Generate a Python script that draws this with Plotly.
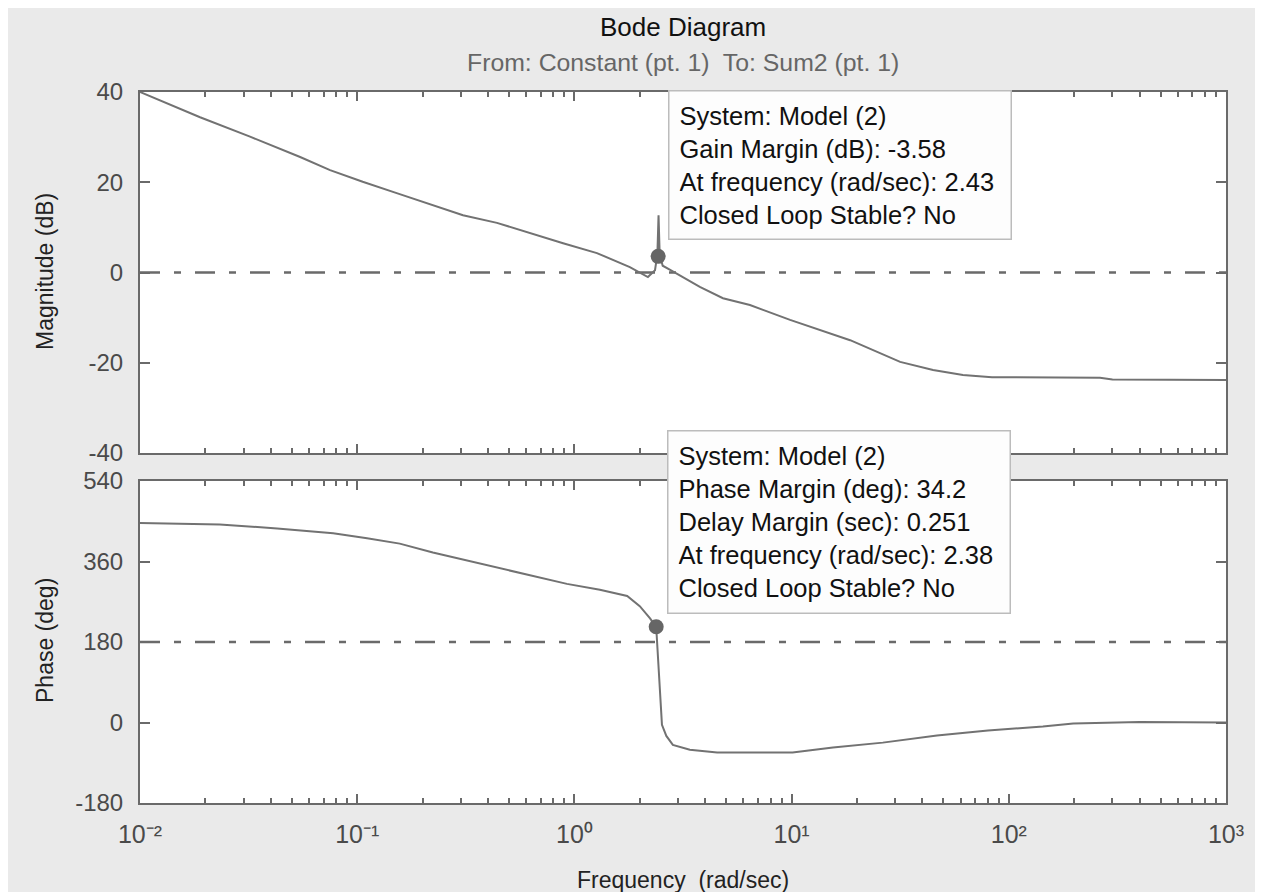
import plotly.graph_objects as go

# ---------------- data ----------------
freq_mag = [0.01, 0.0189, 0.0321, 0.0546, 0.075, 0.106, 0.152, 0.216, 0.307, 0.44,
            0.625, 0.887, 1.27, 1.51, 1.80, 2.18, 2.35, 2.41, 2.44, 2.47, 2.55,
            2.76, 3.78, 4.83, 6.43, 9.84, 18.6, 31.6, 44.8, 61.5, 83.7, 263, 300, 1000]
mag_db = [40, 34.4, 30.1, 25.6, 22.7, 20.1, 17.6, 15.2, 12.7, 11.0,
          8.7, 6.5, 4.3, 2.8, 1.2, -1.0, 0.5, 4.0, 12.7, 4.0, 1.5,
          0.6, -3.2, -5.7, -7.2, -10.5, -15.0, -19.8, -21.6, -22.7, -23.2, -23.3, -23.7, -23.8]

freq_phase = [0.01, 0.0233, 0.0428, 0.0546, 0.0775, 0.111, 0.157, 0.223, 0.320, 0.454,
              0.644, 0.924, 1.31, 1.75, 2.00, 2.23, 2.38, 2.43, 2.50, 2.53, 2.65,
              2.84, 3.40, 4.54, 10.1, 15.5, 26.3, 46.7, 80.2, 143.5, 198, 400, 1000]
phase_deg = [446, 443, 434, 430, 423, 412, 400, 380, 362, 344,
             328, 310, 297, 283, 260, 233, 214, 130, 20, -5, -30,
             -50, -61, -67, -67, -56, -45, -29, -18, -9, -2, 1, 0]

gm_freq, gm_mag = 2.43, 3.58
pm_freq, pm_phase = 2.38, 214.2

ref_freq = [0.01, 1000]
ref_mag = [0, 0]
ref_phase = [180, 180]

decade_ticks = [0.01, 0.1, 1, 10, 100, 1000]
decade_labels = ["10\u207b\u00b2", "10\u207b\u00b9", "10\u2070",
                 "10\u00b9", "10\u00b2", "10\u00b3"]
minor_ticks = [m * d for d in decade_ticks[:-1] for m in range(2, 10)]
mag_ticks = [-40, -20, 0, 20, 40]
mag_labels = ["-40", "-20", "0", "20", "40"]
phase_ticks = [-180, 0, 180, 360, 540]
phase_labels = ["-180", "0", "180", "360", "540"]

gm_lines = ["System: Model (2)", "Gain Margin (dB): -3.58",
            "At frequency (rad/sec): 2.43", "Closed Loop Stable? No"]
pm_lines = ["System: Model (2)", "Phase Margin (deg): 34.2", "Delay Margin (sec): 0.251",
            "At frequency (rad/sec): 2.38", "Closed Loop Stable? No"]

title = "Bode Diagram"
subtitle = "From: Constant (pt. 1)\u00a0 To: Sum2 (pt. 1)"
xlabel = "Frequency\u00a0 (rad/sec)"

# ---------------- styling ----------------
FONT = "Liberation Sans, Arial, sans-serif"
CURVE = "#727272"
AXIS = "#6a6a6a"
TICKTXT = "#4a4a4a"
BG = "#eaeaea"
dash = "20px,14px,7px,14px"

fig = go.Figure()
fig.add_trace(go.Scatter(x=ref_freq, y=ref_mag, mode="lines", xaxis="x", yaxis="y",
                         line=dict(color=AXIS, width=2.4, dash=dash), hoverinfo="skip"))
fig.add_trace(go.Scatter(x=freq_mag, y=mag_db, mode="lines", xaxis="x", yaxis="y",
                         line=dict(color=CURVE, width=2)))
fig.add_trace(go.Scatter(x=[gm_freq], y=[gm_mag], mode="markers", xaxis="x", yaxis="y",
                         marker=dict(color="#666666", size=15)))
fig.add_trace(go.Scatter(x=ref_freq, y=ref_phase, mode="lines", xaxis="x2", yaxis="y2",
                         line=dict(color=AXIS, width=2.4, dash=dash), hoverinfo="skip"))
fig.add_trace(go.Scatter(x=freq_phase, y=phase_deg, mode="lines", xaxis="x2", yaxis="y2",
                         line=dict(color=CURVE, width=2)))
fig.add_trace(go.Scatter(x=[pm_freq], y=[pm_phase], mode="markers", xaxis="x2", yaxis="y2",
                         marker=dict(color="#666666", size=15)))

top_dom = [(803 - 453) / 711, 1.0]
bot_dom = [0.0, (803 - 481) / 711]

TICKFONT = dict(family=FONT, size=24, color=TICKTXT)
xcommon = dict(type="log", range=[-2, 3], showline=True, linecolor=AXIS, linewidth=2,
               mirror="allticks", ticks="inside", ticklen=9, tickwidth=1.5, tickcolor=AXIS,
               tickmode="array", tickvals=decade_ticks, showgrid=False, zeroline=False,
               minor=dict(ticks="inside", ticklen=5, tickwidth=1.5, tickcolor=AXIS,
                          tickmode="array", tickvals=minor_ticks, showgrid=False))
ycommon = dict(showline=True, linecolor=AXIS, linewidth=2, mirror="allticks",
               ticks="inside", ticklen=10, tickwidth=1.5, tickcolor=AXIS,
               showgrid=False, zeroline=False, tickmode="array",
               tickfont=TICKFONT, ticklabelstandoff=10)

# page body has an 8px margin: figure starts at page pixel (8, 8)
fig.update_layout(
    width=1255, height=884, autosize=False,
    margin=dict(l=132, r=37, t=84, b=89),
    paper_bgcolor=BG, plot_bgcolor="white", showlegend=False,
    font=dict(family=FONT, size=23, color="#222222"),
    xaxis=dict(**xcommon, domain=[0, 1], anchor="y", showticklabels=False),
    yaxis=dict(**ycommon, domain=top_dom, anchor="x", range=[-40, 40],
               tickvals=mag_ticks, ticktext=mag_labels),
    xaxis2=dict(**xcommon, domain=[0, 1], anchor="y2", matches="x", showticklabels=True,
                ticktext=decade_labels, tickfont=dict(family=FONT, size=25, color=TICKTXT),
                ticklabelstandoff=8),
    yaxis2=dict(**ycommon, domain=bot_dom, anchor="x2", range=[-180, 540],
                tickvals=phase_ticks, ticktext=phase_labels),
)

def px_x(p):
    return (p - 140) / 1086

def px_y(p):
    return (803 - p) / 711

ann = []
ann.append(dict(text=title, x=0.5, y=px_y(27), xref="paper", yref="paper", showarrow=False,
                xanchor="center", yanchor="middle",
                font=dict(family=FONT, size=26, color="#111111")))
ann.append(dict(text=subtitle, x=0.5, y=px_y(62), xref="paper", yref="paper", showarrow=False,
                xanchor="center", yanchor="middle",
                font=dict(family=FONT, size=24.8, color="#666666")))
ann.append(dict(text="Magnitude (dB)", x=px_x(45), y=px_y(272), xref="paper", yref="paper",
                showarrow=False, textangle=-90, xanchor="center", yanchor="middle",
                font=dict(family=FONT, size=23, color="#222222")))
ann.append(dict(text="Phase (deg)", x=px_x(45), y=px_y(641), xref="paper", yref="paper",
                showarrow=False, textangle=-90, xanchor="center", yanchor="middle",
                font=dict(family=FONT, size=23, color="#222222")))
ann.append(dict(text=xlabel, x=0.5, y=px_y(880), xref="paper", yref="paper", showarrow=False,
                xanchor="center", yanchor="middle",
                font=dict(family=FONT, size=23, color="#222222")))
ann.append(dict(text="<br>".join(gm_lines), x=px_x(668), y=px_y(90), xref="paper", yref="paper",
                xanchor="left", yanchor="top", align="left", showarrow=False, width=321,
                bgcolor="#fdfdfd", bordercolor="#bcbcbc", borderwidth=1.5, borderpad=10,
                font=dict(family=FONT, size=25.5, color="#111111")))
ann.append(dict(text="<br>".join(pm_lines), x=px_x(667), y=px_y(430), xref="paper", yref="paper",
                xanchor="left", yanchor="top", align="left", showarrow=False, width=321,
                bgcolor="#fdfdfd", bordercolor="#bcbcbc", borderwidth=1.5, borderpad=10,
                font=dict(family=FONT, size=25.5, color="#111111")))
fig.update_layout(annotations=ann)

fig.write_html("out.html")
